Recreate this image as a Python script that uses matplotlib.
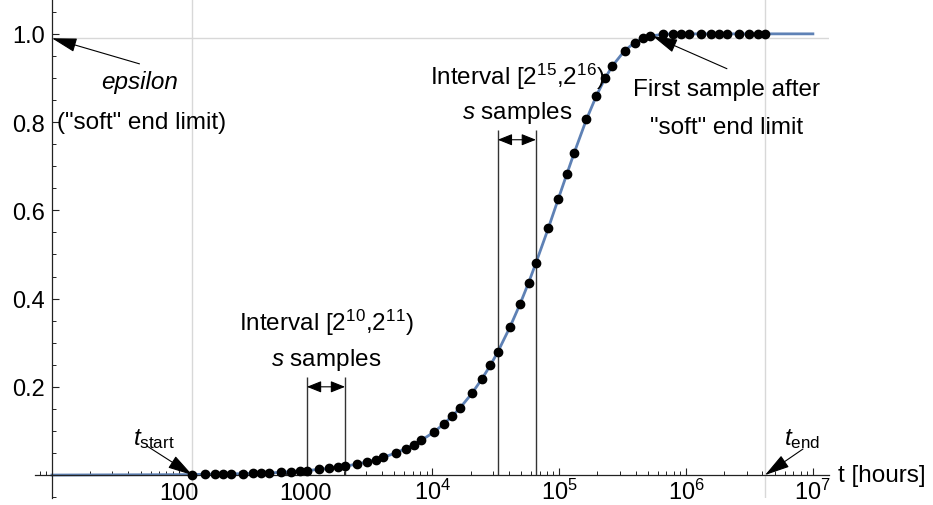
import matplotlib
matplotlib.use('Agg')
import matplotlib.pyplot as plt
from matplotlib.ticker import FixedLocator, NullFormatter

plt.rcParams['font.family'] = ['Liberation Sans', 'DejaVu Sans']
plt.rcParams['mathtext.fontset'] = 'custom'
plt.rcParams['mathtext.rm'] = 'Liberation Sans'
plt.rcParams['mathtext.it'] = 'Liberation Sans:italic'
plt.rcParams['mathtext.bf'] = 'Liberation Sans:bold'

# sample times (4 samples per octave, 2^7 .. 2^22 hours)
sample_t = [128, 160, 192, 224, 256, 320, 384, 448, 512, 640, 768, 896,
            1024, 1280, 1536, 1792, 2048, 2560, 3072, 3584, 4096, 5120, 6144, 7168,
            8192, 10240, 12288, 14336, 16384, 20480, 24576, 28672,
            32768, 40960, 49152, 57344, 65536, 81920, 98304, 114688,
            131072, 163840, 196608, 229376, 262144, 327680, 393216, 458752,
            524288, 655360, 786432, 917504, 1048576, 1310720, 1572864, 1835008,
            2097152, 2621440, 3145728, 3670016, 4194304]
# values
sample_y = [0.001, 0.002, 0.002, 0.002, 0.003, 0.003, 0.004, 0.004, 0.005, 0.006, 0.008, 0.009,
            0.010, 0.013, 0.015, 0.018, 0.020, 0.025, 0.030, 0.035, 0.040, 0.050, 0.060, 0.069,
            0.079, 0.097, 0.116, 0.134, 0.151, 0.185, 0.218, 0.249,
            0.279, 0.336, 0.388, 0.436, 0.481, 0.559, 0.626, 0.682,
            0.730, 0.806, 0.860, 0.899, 0.927, 0.962, 0.980, 0.990,
            0.995, 0.999, 1.0, 1.0, 1.0, 1.0, 1.0, 1.0,
            1.0, 1.0, 1.0, 1.0, 1.0]
# smooth curve: same points plus the ends of the plotted range
curve_t = [10] + sample_t + [1e7]
curve_y = [0.0] + sample_y + [1.0]

t_start = 128
t_end = 4194304
soft_limit = 0.99
first_after = (524288, 0.995)
interval_a = (1024, 2048)
interval_b = (32768, 65536)

x_major = [100, 1000, 1e4, 1e5, 1e6, 1e7]
x_major_labels = ['100', '1000', r'$10^{4}$', r'$10^{5}$', r'$10^{6}$', r'$10^{7}$']
y_major = [0.2, 0.4, 0.6, 0.8, 1.0]
y_major_labels = ['0.2', '0.4', '0.6', '0.8', '1.0']

fig = plt.figure(figsize=(9.33, 5.06), dpi=100)
ax = fig.add_axes([35 / 933, 7 / 506, 794 / 933, 499 / 506])
ax.set_xscale('log')
ax.set_xlim(7.35, 1.34e7)
ax.set_ylim(-0.052, 1.079)

# axes cross at (10, 0) like Mathematica
for s in ['top', 'right']:
    ax.spines[s].set_visible(False)
ax.spines['left'].set_position(('data', 10))
ax.spines['bottom'].set_position(('data', 0))
for s in ['left', 'bottom']:
    ax.spines[s].set_color('#222222')
    ax.spines[s].set_linewidth(0.9)

ax.xaxis.set_major_locator(FixedLocator(x_major))
ax.set_xticklabels(x_major_labels)
minors = [m * 10 ** k for k in range(0, 7) for m in range(2, 10)]
ax.xaxis.set_minor_locator(FixedLocator(minors))
ax.xaxis.set_minor_formatter(NullFormatter())
ax.yaxis.set_major_locator(FixedLocator(y_major))
ax.set_yticklabels(y_major_labels)
ax.yaxis.set_minor_locator(FixedLocator([i * 0.05 for i in range(-1, 22) if i % 4 != 0]))
ax.tick_params(axis='both', which='major', direction='in', length=5, width=0.8,
               color='#222222', labelsize=17)
ax.tick_params(axis='both', which='minor', direction='in', length=3, width=0.7, color='#222222')
ax.tick_params(axis='x', which='major', pad=17.5)
ax.tick_params(axis='y', which='major', pad=5)
plt.setp(ax.get_xticklabels(), va='baseline')

# grid lines at t_start, t_end and 1-epsilon
ax.axvline(t_start, color='#d8d8d8', lw=1, zorder=0)
ax.axvline(t_end, color='#d8d8d8', lw=1, zorder=0)
ax.plot([10, 1.34e7], [soft_limit, soft_limit], color='#d8d8d8', lw=1, zorder=0)

ax.plot(curve_t, curve_y, color='#5E81B5', lw=2, zorder=2)
ax.plot(sample_t, sample_y, 'o', color='black', ms=6, zorder=3)

# interval markers
ax.vlines(interval_a, 0, 0.222, color='#333333', lw=1)
ax.vlines(interval_b, 0, 0.782, color='#333333', lw=1)
dbl = dict(arrowstyle='<|-|>,head_length=0.55,head_width=0.22', color='black', lw=0.8,
           shrinkA=0, shrinkB=0, mutation_scale=16)
ax.annotate('', xy=(interval_a[1], 0.2), xytext=(interval_a[0], 0.2), arrowprops=dbl)
ax.annotate('', xy=(interval_b[1], 0.76), xytext=(interval_b[0], 0.76), arrowprops=dbl)

fs = 17.5
ax.text(1449, 0.347, r'Interval [$2^{10}$,$2^{11}$)', fontsize=fs, ha='center', va='center')
ax.text(1449, 0.262, r'$\mathit{s}$ samples', fontsize=fs, ha='center', va='center')
ax.text(46340, 0.905, r'Interval [$2^{15}$,$2^{16}$)', fontsize=fs, ha='center', va='center')
ax.text(46340, 0.822, r'$\mathit{s}$ samples', fontsize=fs, ha='center', va='center')

one = dict(arrowstyle='-|>,head_length=0.5,head_width=0.14', color='black', lw=0.8,
           shrinkA=0, shrinkB=0, mutation_scale=31)
ax.annotate('', xy=(10, soft_limit), xytext=(49, 0.932), arrowprops=one)
ax.text(49, 0.893, 'epsilon', fontsize=fs, style='italic', ha='center', va='center')
ax.text(51, 0.80, '("soft" end limit)', fontsize=fs, ha='center', va='center')

ax.annotate('', xy=(first_after[0] * 1.04, first_after[1]), xytext=(2.1e6, 0.921), arrowprops=one)
ax.text(2.1e6, 0.875, 'First sample after', fontsize=fs, ha='center', va='center')
ax.text(2.1e6, 0.789, '"soft" end limit', fontsize=fs, ha='center', va='center')

ax.annotate('', xy=(t_start, 0), xytext=(56, 0.066), arrowprops=one)
ax.text(64, 0.083, r'$t_{\mathrm{start}}$', fontsize=fs, ha='center', va='center')
ax.annotate('', xy=(t_end, 0), xytext=(8.35e6, 0.059), arrowprops=one)
ax.text(8.2e6, 0.083, r'$t_{\mathrm{end}}$', fontsize=fs, ha='center', va='center')

ax.text(1.58e7, 0.0, 't [hours]', fontsize=fs, ha='left', va='center', clip_on=False)

fig.savefig('out.png', dpi=100)
